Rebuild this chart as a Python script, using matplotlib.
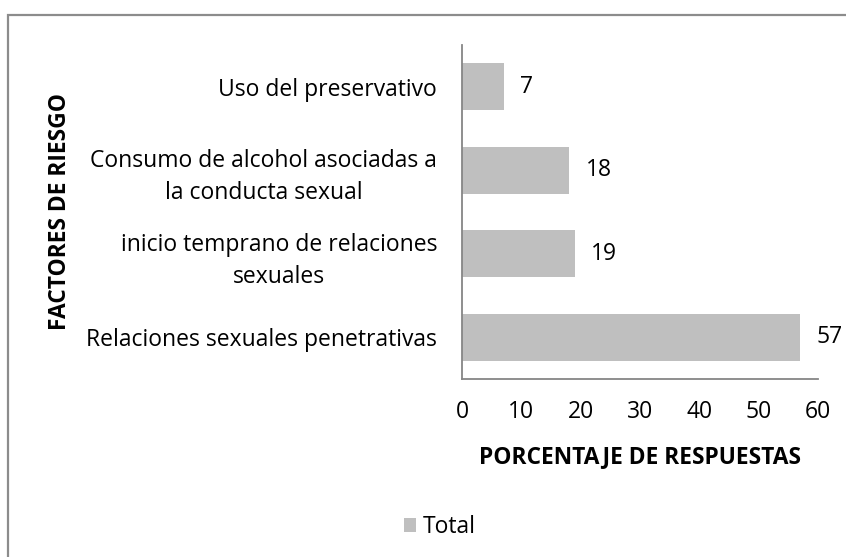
import matplotlib
matplotlib.use("Agg")
import matplotlib.pyplot as plt
from matplotlib.patches import Rectangle

categorias = [
    "Relaciones sexuales penetrativas",
    "inicio temprano de relaciones\nsexuales",
    "Consumo de alcohol asociadas a\nla conducta sexual",
    "Uso del preservativo",
]
valores = [57, 19, 18, 7]
xticks = [0, 10, 20, 30, 40, 50, 60]

plt.rcParams['font.family'] = ['Open Sans', 'DejaVu Sans']
fs = 16.5

W, H = 846, 557
fig = plt.figure(figsize=(W / 100, H / 100), dpi=100)

# chart border
fig.patches.append(Rectangle((8 / W, -0.1), 1.2, 1 - 15 / H + 0.1, transform=fig.transFigure,
                             fill=False, edgecolor='#8c8c8c', linewidth=1.6))

ax = fig.add_axes([462 / W, 1 - 379 / H, 356 / W, 334 / H])
bars = ax.barh(range(len(categorias)), valores, height=0.565, color='#bfbfbf', label='Total')
ax.set_xlim(0, 60)
ax.set_ylim(-0.5, len(categorias) - 0.5)
ax.set_xticks(xticks)
ax.set_yticks(range(len(categorias)))
ax.set_yticklabels(categorias, multialignment='center', linespacing=1.45)
ax.tick_params(axis='both', length=0, labelsize=fs, colors='black')
ax.tick_params(axis='x', pad=15)
ax.tick_params(axis='y', pad=18)
for s in ['top', 'right']:
    ax.spines[s].set_visible(False)
for s in ['left', 'bottom']:
    ax.spines[s].set_color('#868686')
    ax.spines[s].set_linewidth(1.3)

for b, v in zip(bars, valores):
    ax.annotate(str(v), (b.get_width(), b.get_y() + b.get_height() / 2),
                xytext=(12, 0), textcoords='offset points', va='center', ha='left', fontsize=fs)

fig.text(640 / W, 1 - 457 / H, "PORCENTAJE DE RESPUESTAS", ha='center', va='center',
         fontsize=16.4, fontweight='bold')
fig.text(60 / W, 1 - 212 / H, "FACTORES DE RIESGO", ha='center', va='center',
         rotation=90, fontsize=16.4, fontweight='bold')

fig.legend(loc='center', bbox_to_anchor=(440 / W, 1 - 527 / H), frameon=False, fontsize=fs,
           handlelength=0.55, handleheight=0.55, handletextpad=0.3)

fig.savefig("out.png", dpi=100)
